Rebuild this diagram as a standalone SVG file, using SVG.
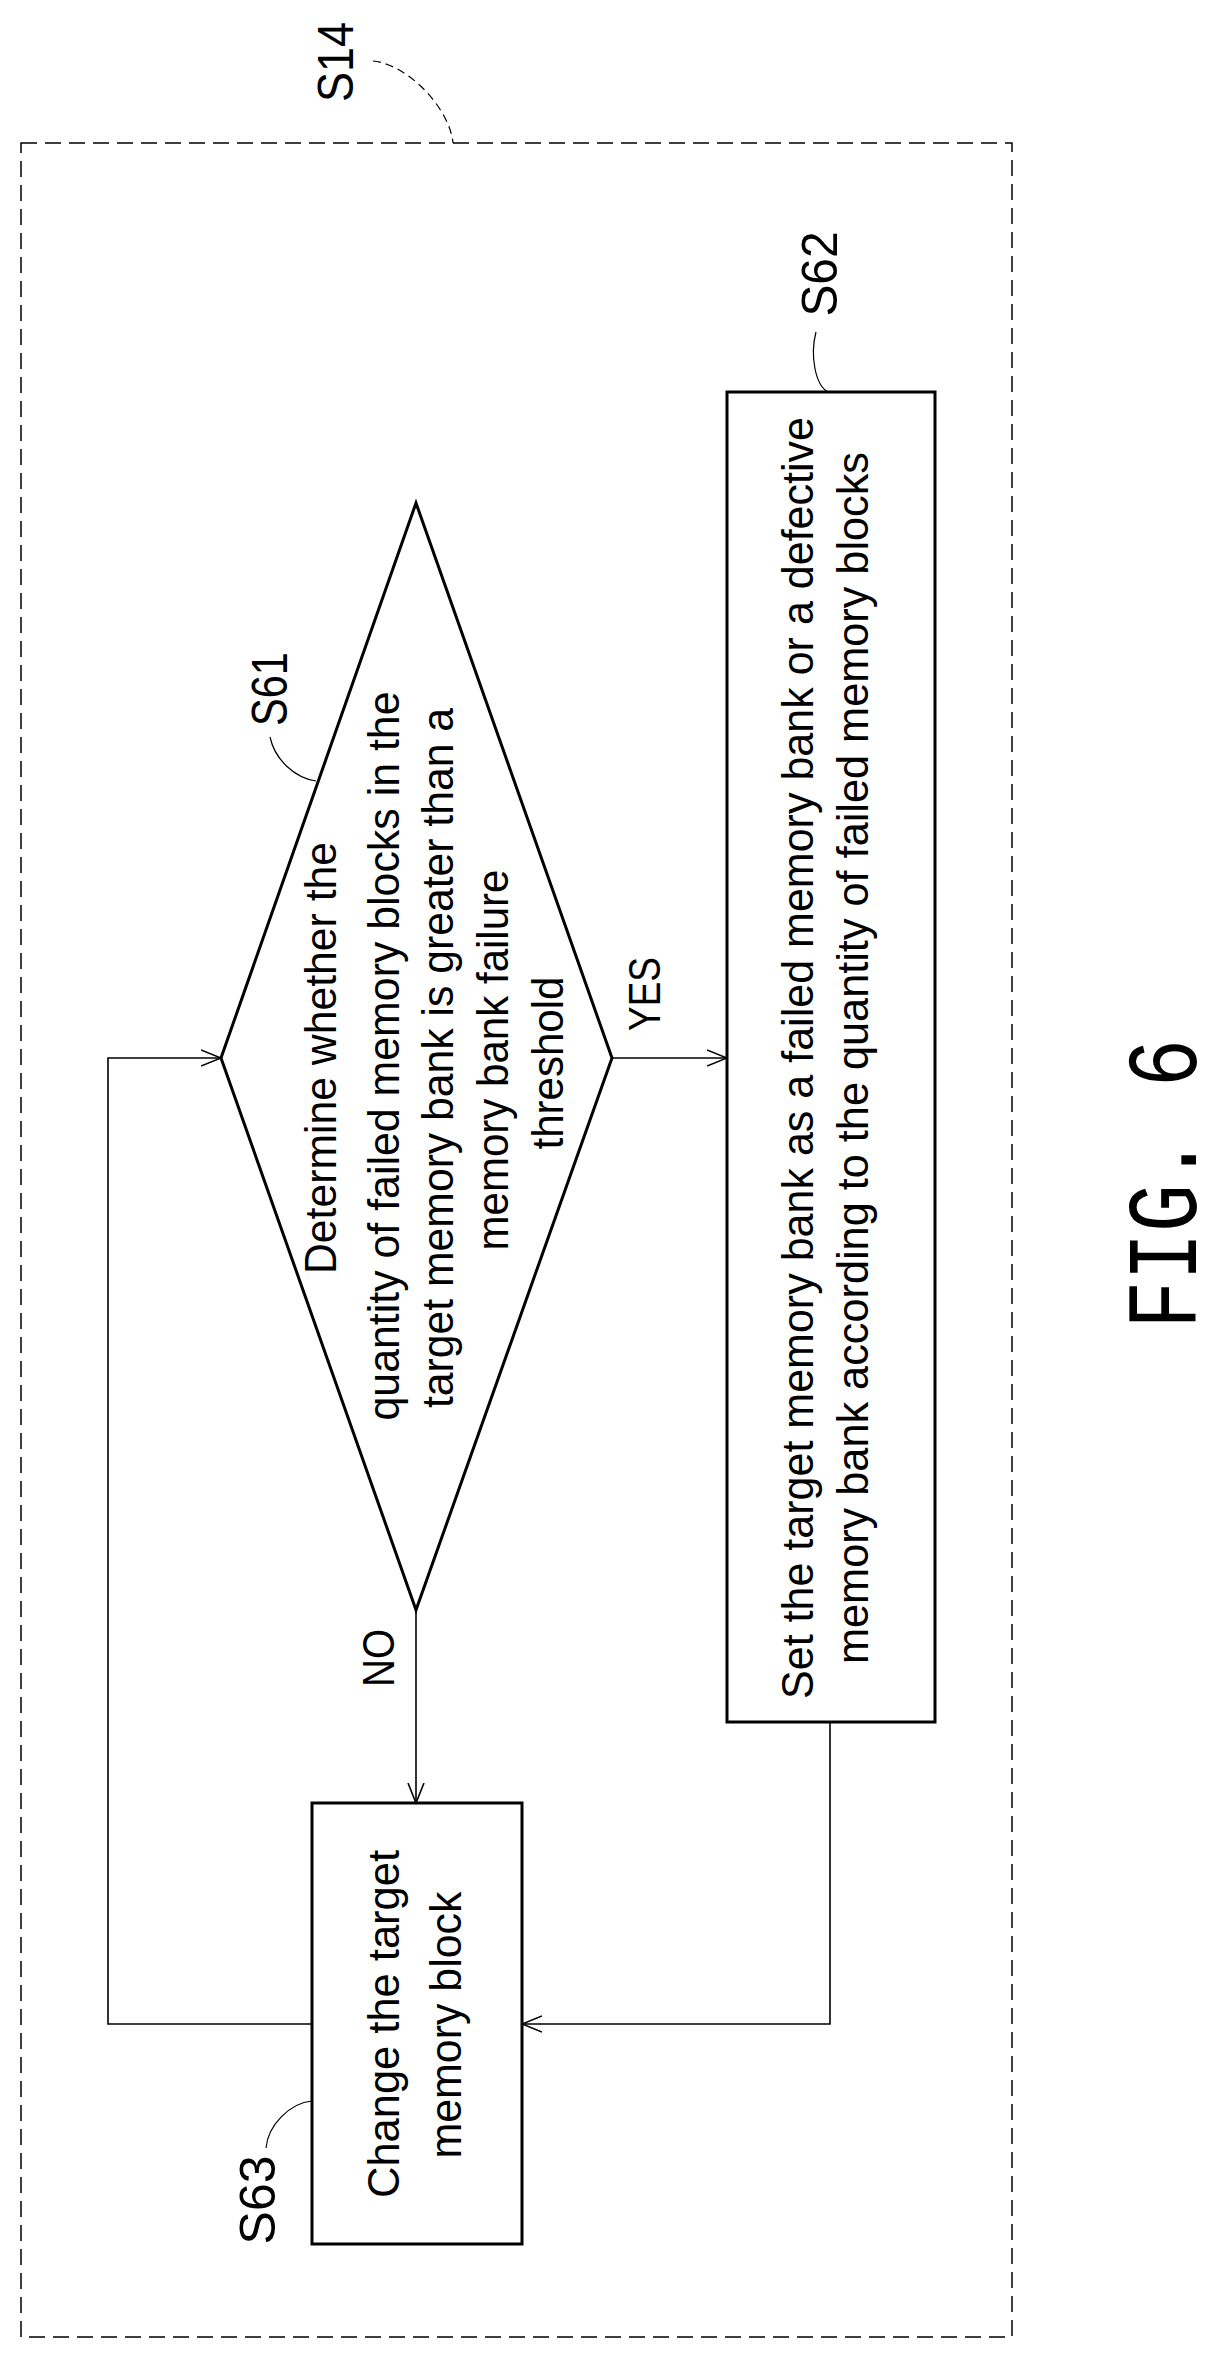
<svg xmlns="http://www.w3.org/2000/svg" width="1227" height="2358" viewBox="0 0 1227 2358">
<style>
.t{font-family:"Liberation Sans",Arial,sans-serif;font-size:44px;fill:#000;text-anchor:middle}
.l{font-family:"Liberation Sans",Arial,sans-serif;font-size:50px;fill:#000;text-anchor:middle}
.node{fill:#fff;stroke:#000;stroke-width:3}
.c{fill:none;stroke:#000;stroke-width:1.6}
.lead{fill:none;stroke:#000;stroke-width:1.2}
</style>
<defs>
<marker id="a" viewBox="0 0 20 20" refX="20" refY="10" markerWidth="20" markerHeight="20" markerUnits="userSpaceOnUse" orient="auto">
<path d="M0,2 L20,10 L0,18" fill="none" stroke="#000" stroke-width="1.6"/>
</marker>
</defs>
<rect width="1227" height="2358" fill="#fff"/>
<g id="S14">
<rect x="21" y="143" width="991" height="2194" fill="none" stroke="#000" stroke-width="1.5" stroke-dasharray="16 8"/>
<path class="lead" d="M373,61 C410,65 450,110 453,143" stroke-dasharray="8 5"/>
<text class="l" transform="translate(353,62) rotate(-90)" textLength="80" lengthAdjust="spacingAndGlyphs">S14</text>
</g>
<g id="connectors">
<path class="c" d="M612,1058 L727,1058" marker-end="url(#a)"/>
<path class="c" d="M416,1610 L416,1803" marker-end="url(#a)"/>
<path class="c" d="M830,1722 L830,2024 L522,2024" marker-end="url(#a)"/>
<path class="c" d="M312,2024 L108,2024 L108,1058 L221,1058" marker-end="url(#a)"/>
<text class="t" transform="translate(660,994) rotate(-90)" textLength="74" lengthAdjust="spacingAndGlyphs">YES</text>
<text class="t" transform="translate(394,1658) rotate(-90)" textLength="58" lengthAdjust="spacingAndGlyphs">NO</text>
</g>
<g id="S61">
<polygon class="node" points="416,503 612,1058 416,1610 221,1058"/>
<text class="t" transform="translate(336,1058) rotate(-90)" textLength="432" lengthAdjust="spacingAndGlyphs">Determine whether the</text>
<text class="t" transform="translate(399,1056) rotate(-90)" textLength="729" lengthAdjust="spacingAndGlyphs">quantity of failed memory blocks in the</text>
<text class="t" transform="translate(453,1058) rotate(-90)" textLength="700" lengthAdjust="spacingAndGlyphs">target memory bank is greater than a</text>
<text class="t" transform="translate(508,1060) rotate(-90)" textLength="381" lengthAdjust="spacingAndGlyphs">memory bank failure</text>
<text class="t" transform="translate(563,1063) rotate(-90)" textLength="173" lengthAdjust="spacingAndGlyphs">threshold</text>
<path class="lead" d="M270,737 C275,760 295,778 316,781"/>
<text class="l" transform="translate(287,689) rotate(-90)" textLength="74" lengthAdjust="spacingAndGlyphs">S61</text>
</g>
<g id="S62">
<rect class="node" x="727" y="392" width="208" height="1330"/>
<text class="t" transform="translate(813,1058) rotate(-90)" textLength="1282" lengthAdjust="spacingAndGlyphs">Set the target memory bank as a failed memory bank or a defective</text>
<text class="t" transform="translate(868,1058) rotate(-90)" textLength="1212" lengthAdjust="spacingAndGlyphs">memory bank according to the quantity of failed memory blocks</text>
<path class="lead" d="M816,332 C810,355 815,385 828,392"/>
<text class="l" transform="translate(837,274) rotate(-90)" textLength="85" lengthAdjust="spacingAndGlyphs">S62</text>
</g>
<g id="S63">
<rect class="node" x="312" y="1803" width="210" height="441"/>
<text class="t" transform="translate(399,2024) rotate(-90)" textLength="348" lengthAdjust="spacingAndGlyphs">Change the target</text>
<text class="t" transform="translate(461,2025) rotate(-90)" textLength="267" lengthAdjust="spacingAndGlyphs">memory block</text>
<path class="lead" d="M266,2148 C268,2125 290,2103 312,2101"/>
<text class="l" transform="translate(275,2200) rotate(-90)" textLength="89" lengthAdjust="spacingAndGlyphs">S63</text>
</g>
<text transform="translate(1196,1184) rotate(-90)" font-family="Liberation Mono,monospace" font-size="100" text-anchor="middle" textLength="290" lengthAdjust="spacingAndGlyphs">FIG. 6</text>
</svg>
